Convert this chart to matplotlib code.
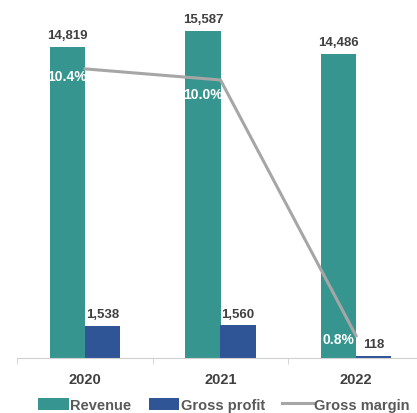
import matplotlib.pyplot as plt
import numpy as np

years = ['2020', '2021', '2022']
revenue = [14819, 15587, 14486]
gross_profit = [1538, 1560, 118]
gross_margin = [10.4, 10.0, 0.8]

teal = '#36968F'
blue = '#2F5597'
gray_line = '#A6A6A6'
text_col = '#404040'

plt.rcParams['font.family'] = ['Liberation Sans', 'DejaVu Sans']

fig = plt.figure(figsize=(4.17, 4.14), dpi=100)
ax = fig.add_axes([17.25 / 417, 55 / 414, 406.5 / 417, 339 / 414])
x = np.arange(len(years))
w = 0.26

b1 = ax.bar(x - w / 2, revenue, w, color=teal, label='Revenue')
b2 = ax.bar(x + w / 2, gross_profit, w, color=blue, label='Gross profit')

for xi, v in zip(x, revenue):
    ax.annotate(f'{v:,}', (xi - w / 2, v), xytext=(0, 4), textcoords='offset points',
                ha='center', va='bottom', fontsize=9.5, fontweight='bold', color=text_col)
for xi, v in zip(x, gross_profit):
    ax.annotate(f'{v:,}', (xi + w / 2, v), xytext=(0, 4), textcoords='offset points',
                ha='center', va='bottom', fontsize=9.5, fontweight='bold', color=text_col)

ax.set_xlim(-0.5, 2.5)
ax.set_ylim(0, 339 / 0.02099)
ax.set_yticks([])
for s in ['top', 'left', 'right']:
    ax.spines[s].set_visible(False)
ax.spines['bottom'].set_color('#D0D0D0')
ax.set_xticks(x)
ax.set_xticklabels(years, fontsize=10.5, fontweight='bold', color=text_col)
ax.tick_params(axis='x', which='major', length=0, pad=10)
ax.set_xticks([-0.5, 0.5, 1.5, 2.5], minor=True)
ax.tick_params(axis='x', which='minor', length=4, color='#D0D0D0')

ax2 = ax.twinx()
ln, = ax2.plot(x, gross_margin, color=gray_line, lw=2.2, label='Gross margin')
ax2.set_ylim(0, 339 / 27.8)
ax2.axis('off')
offsets = [(-13, -5), (-13, -10), (-13, -2)]
for xi, v, off in zip(x, gross_margin, offsets):
    ax2.annotate(f'{v}%', (xi, v), xytext=off, textcoords='offset points',
                 ha='center', va='center', fontsize=10, fontweight='bold', color='white')

fig.legend(handles=[b1, b2, ln], loc='lower center', bbox_to_anchor=(0.537, -0.029), ncol=3,
           frameon=False, handlelength=2.1, handleheight=0.9, handletextpad=0.1,
           columnspacing=1.2, prop={'weight': 'bold', 'size': 10.5})
for t in fig.legends[0].get_texts():
    t.set_color('#595959')

fig.savefig('out.png', dpi=100)
